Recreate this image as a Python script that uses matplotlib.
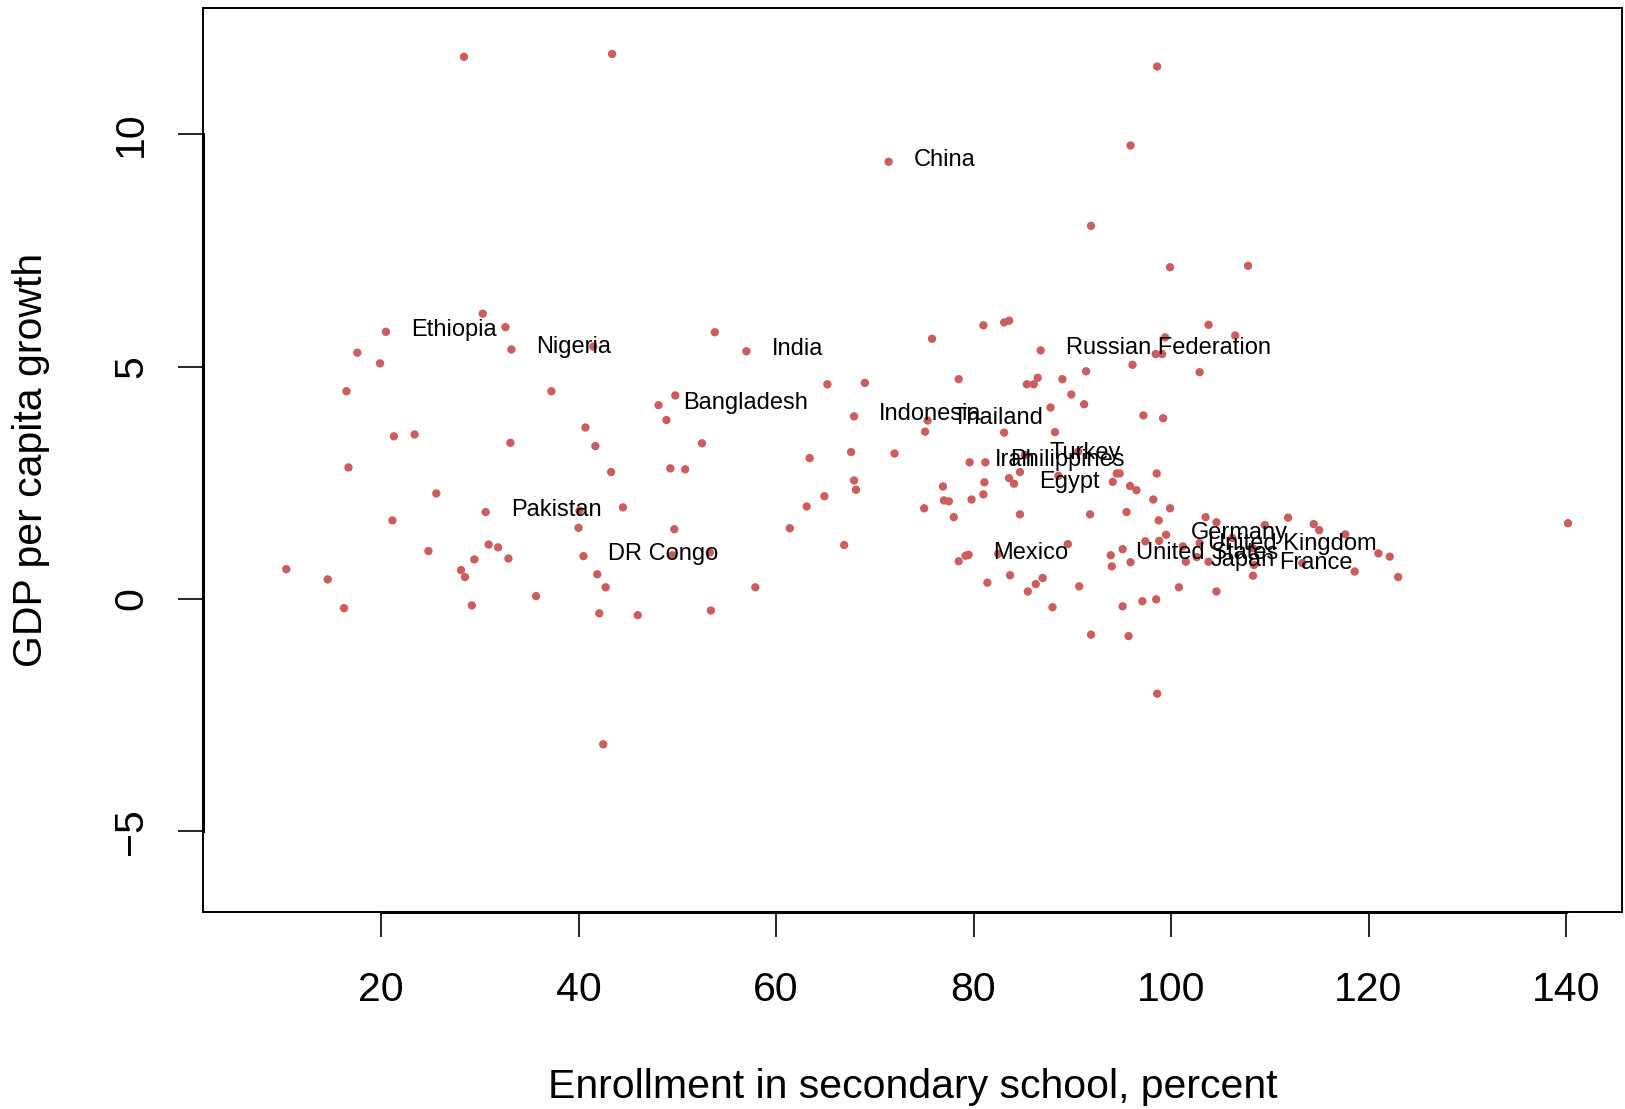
import matplotlib
matplotlib.use("Agg")
import matplotlib.pyplot as plt

plt.rcParams['font.family'] = ['Liberation Sans', 'DejaVu Sans']

# Labelled countries
countries = ["China", "Ethiopia", "Nigeria", "India", "Russian Federation",
             "Bangladesh", "Indonesia", "Thailand", "Iran", "Philippines",
             "Turkey", "Egypt", "Pakistan", "DR Congo", "Mexico", "Germany",
             "United Kingdom", "United States", "Japan", "France"]
enroll_lab = [71.4, 20.5, 33.2, 57.0, 86.8,
              48.1, 67.9, 75.35, 79.6, 81.2,
              85.2, 84.1, 30.6, 40.5, 79.5, 99.5,
              101.2, 93.9, 101.5, 108.4]
growth_lab = [9.41, 5.75, 5.37, 5.33, 5.35,
              4.17, 3.93, 3.84, 2.94, 2.94,
              3.10, 2.48, 1.87, 0.92, 0.95, 1.38,
              1.13, 0.94, 0.80, 0.73]

# Other (unlabelled) countries
enroll_oth = [28.4, 43.4, 98.6, 95.9, 91.9, 99.9, 107.8, 103.8, 30.3, 32.6,
              17.6, 19.9, 41.5, 16.5, 37.25, 49.8, 48.9, 40.7, 21.3, 23.4,
              33.1, 41.7, 16.7, 43.3, 49.3, 50.8, 25.6, 44.5, 40.1, 21.15,
              40.0, 49.7, 24.8, 30.9, 31.85, 29.45, 32.9, 49.5, 53.3, 10.4,
              14.6, 28.1, 28.5, 41.9, 42.75, 35.7, 16.25, 29.2, 42.1, 46.0,
              42.5, 53.4, 57.9, 61.4, 66.9, 63.1, 64.9, 63.4, 67.6, 67.9,
              68.1, 72.0, 52.5, 53.8, 65.2, 69.0, 75.1, 75.8, 81.0, 83.1,
              83.6, 78.5, 85.4, 86.1, 86.5, 89.0, 91.4, 89.9, 91.2, 87.8,
              83.1, 88.25, 90.6, 81.1, 81.0, 79.8, 76.9, 77.0, 77.5, 83.6,
              84.7, 88.6, 94.1, 94.5, 94.8, 95.85, 96.5, 98.55, 75.0, 78.0,
              84.7, 91.8, 95.5, 98.2, 99.9, 98.75, 103.5, 104.6, 109.5, 111.85,
              114.45, 115.0, 117.65, 140.2, 98.8, 97.4, 95.1, 95.9, 94.0, 102.9,
              106.2, 102.6, 103.8, 108.3, 108.3, 113.3, 118.6, 121.0, 122.15, 123.0,
              100.8, 104.6, 97.1, 98.5, 95.1, 78.5, 79.2, 82.5, 89.55, 81.4,
              83.7, 86.3, 87.0, 85.5, 90.7, 88.0, 91.9, 95.7, 98.6, 99.4,
              106.5, 98.45, 99.1, 96.1, 102.9, 97.2, 99.2]
growth_oth = [11.67, 11.73, 11.46, 9.76, 8.03, 7.14, 7.17, 5.90, 6.14, 5.85,
              5.30, 5.07, 5.43, 4.47, 4.47, 4.38, 3.85, 3.69, 3.50, 3.54,
              3.36, 3.29, 2.83, 2.73, 2.81, 2.79, 2.27, 1.97, 1.90, 1.69,
              1.53, 1.50, 1.03, 1.17, 1.11, 0.85, 0.87, 0.94, 1.00, 0.64,
              0.42, 0.62, 0.47, 0.53, 0.25, 0.06, -0.20, -0.14, -0.31, -0.35,
              -3.13, -0.25, 0.25, 1.52, 1.16, 1.99, 2.21, 3.03, 3.16, 2.55,
              2.35, 3.13, 3.35, 5.74, 4.62, 4.65, 3.60, 5.60, 5.89, 5.95,
              5.99, 4.73, 4.62, 4.62, 4.76, 4.73, 4.90, 4.40, 4.19, 4.12,
              3.58, 3.59, 3.17, 2.51, 2.25, 2.14, 2.42, 2.12, 2.10, 2.60,
              2.73, 2.65, 2.52, 2.70, 2.70, 2.43, 2.34, 2.70, 1.95, 1.76,
              1.82, 1.82, 1.87, 2.14, 1.95, 1.69, 1.76, 1.65, 1.59, 1.75,
              1.61, 1.48, 1.39, 1.63, 1.25, 1.24, 1.07, 0.79, 0.70, 1.20,
              1.31, 0.90, 0.80, 1.09, 0.50, 0.77, 0.59, 0.98, 0.91, 0.47,
              0.25, 0.16, -0.05, -0.01, -0.16, 0.81, 0.93, 0.97, 1.18, 0.35,
              0.51, 0.32, 0.45, 0.16, 0.27, -0.18, -0.77, -0.80, -2.04, 5.63,
              5.67, 5.27, 5.27, 5.04, 4.88, 3.95, 3.89]

x_ticks = [20, 40, 60, 80, 100, 120, 140]
y_ticks = [-5, 0, 5, 10]
x_label = "Enrollment in secondary school, percent"
y_label = "GDP per capita growth"

W, H = 1625, 1109
fig = plt.figure(figsize=(W / 100, H / 100), dpi=100)
ax = fig.add_axes([203 / W, 1 - 912 / H, (1622 - 203) / W, (912 - 8) / H])

col = "#CD5C5C"
ax.scatter(enroll_oth, growth_oth, s=36, color=col, edgecolors='none', zorder=3)
ax.scatter(enroll_lab, growth_lab, s=36, color=col, edgecolors='none', zorder=3)

for name, xv, yv in zip(countries, enroll_lab, growth_lab):
    ax.annotate(name, (xv, yv), xytext=(18, 1.5), textcoords='offset points',
                ha='left', va='center', fontsize=17, color='black', zorder=4)

ax.set_xlim(1.97, 145.67)
ax.set_ylim(-6.74, 12.72)
ax.set_xticks(x_ticks)
ax.set_xticklabels([str(t) for t in x_ticks])
ax.set_yticks(y_ticks)
ax.set_yticklabels([str(t).replace('-', '\u2212') for t in y_ticks])

for sp in ax.spines.values():
    sp.set_linewidth(1.4)
    sp.set_color('black')

ax.tick_params(axis='both', length=18, width=1.2, labelsize=29.5, color='black')
ax.tick_params(axis='x', pad=24.5)
ax.tick_params(axis='y', pad=20)
for lab in ax.get_yticklabels():
    lab.set_rotation(90)
    lab.set_va('center')

# R-style axis lines spanning first to last tick
ax.plot([x_ticks[0], x_ticks[-1]], [0, 0], transform=ax.get_xaxis_transform(),
        color='black', lw=2.2, clip_on=False, zorder=5)
ax.plot([0, 0], [y_ticks[0], y_ticks[-1]], transform=ax.get_yaxis_transform(),
        color='black', lw=2.2, clip_on=False, zorder=5)

fig.text(912.5 / W, 1 - 1087 / H, x_label, ha='center', va='center', fontsize=29.5)
fig.text(31 / W, 1 - 460 / H, y_label, ha='center', va='center', rotation=90,
         fontsize=29.5)

fig.savefig("out.png", dpi=100)
